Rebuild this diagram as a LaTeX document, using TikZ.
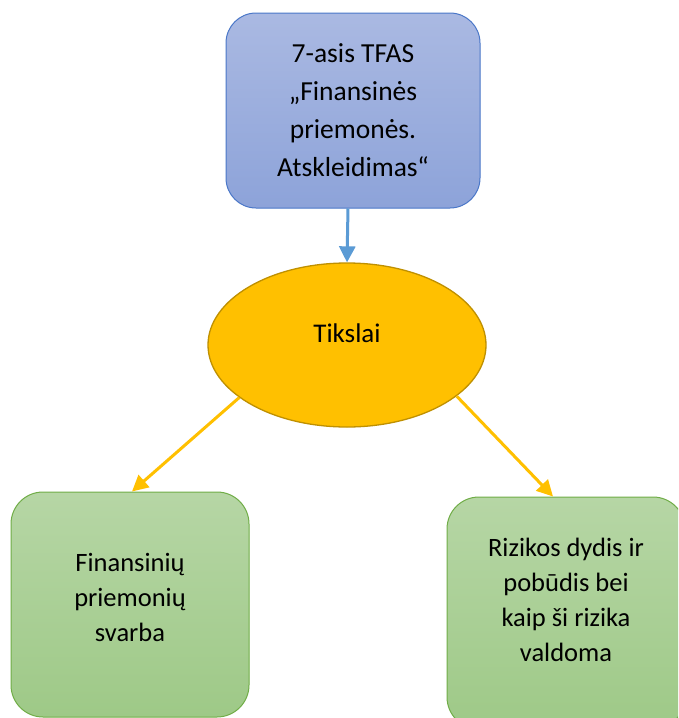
\documentclass[tikz,border=0pt]{standalone}
\usepackage{fontspec}
\setmainfont{Carlito}
\usetikzlibrary{shapes.geometric,arrows.meta,shadings}
\definecolor{bluetop}{HTML}{AAB9E2}
\definecolor{bluebot}{HTML}{8DA3D9}
\definecolor{blueline}{HTML}{4A77C8}
\definecolor{bluearrow}{HTML}{5B9BD5}
\definecolor{gold}{HTML}{FFC000}
\definecolor{goldline}{HTML}{BF9000}
\definecolor{greentop}{HTML}{B6D6A5}
\definecolor{greenbot}{HTML}{9EC987}
\definecolor{greenline}{HTML}{70AD47}
\tikzset{
  topbox/.style={draw=blueline, line width=1pt, rounded corners=30pt,
    top color=bluetop, bottom color=bluebot, minimum width=254pt, minimum height=195pt,
    align=center, font=\fontsize{27.5}{38}\selectfont, inner sep=0pt},
  goalell/.style={ellipse, draw=goldline, line width=1.3pt, fill=gold,
    minimum width=278pt, minimum height=164pt, inner sep=0pt},
  greenbox/.style={draw=greenline, line width=1pt, rounded corners=32pt,
    top color=greentop, bottom color=greenbot, minimum width=238pt,
    inner sep=0pt},
  boxtext/.style={align=center, font=\fontsize{26.5}{35}\selectfont, inner sep=0pt},
  bluearr/.style={draw=bluearrow, line width=3pt, -{Triangle[length=16pt,width=16pt]}},
  goldarr/.style={draw=gold, line width=3pt, -{Triangle[length=16pt,width=16pt]}},
}
\begin{document}
\begin{tikzpicture}[x=1pt,y=-1pt]
\useasboundingbox (0,0) rectangle (678,718);
\clip (0,0) rectangle (678,718);
\fill[white] (0,0) rectangle (678,718);
\node[topbox] (tfas) at (353,110.5) {7-asis TFAS\\„Finansinės\\priemonės.\\Atskleidimas“};
\node[goalell] (tiks) at (347,345) {};
\node[boxtext, font=\fontsize{27}{30}\selectfont] (tikt) at (347,333) {Tikslai};
\node[greenbox, minimum height=225pt] (lbox) at (130,604.5) {};
\node[boxtext] (ltext) at (130,597) {Finansinių\\priemonių\\svarba};
\node[greenbox, minimum height=232pt] (rbox) at (566,613) {};
\node[boxtext] (rtext) at (566,600) {Rizikos dydis ir\\pobūdis bei\\kaip ši rizika\\valdoma};
\draw[bluearr] ([xshift=-5pt]tfas.south) -- (tiks.north);
\draw[goldarr] (tiks.206.8) -- ([xshift=2pt]lbox.north);
\draw[goldarr] (tiks.335.8) -- ([xshift=-13pt]rbox.north);
\end{tikzpicture}
\end{document}
